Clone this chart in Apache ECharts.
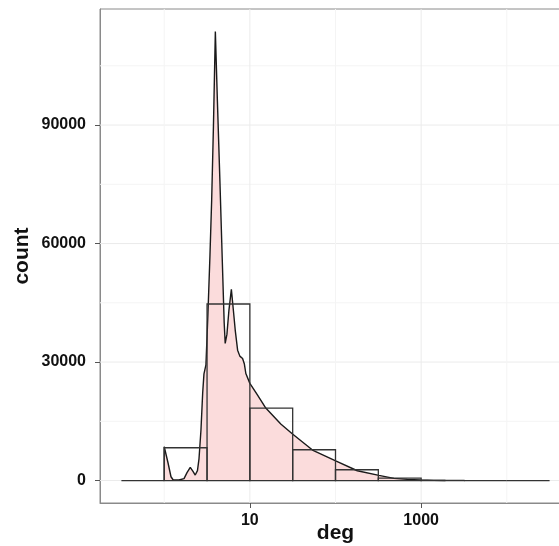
<!DOCTYPE html>
<html>
<head>
<meta charset="utf-8">
<script src="https://cdn.jsdelivr.net/npm/echarts@6/dist/echarts.min.js"></script>
<style>html,body{margin:0;padding:0;background:#fff;}#c{width:559px;height:546px;}</style>
</head>
<body>
<div id="c"></div>
<script>
// ---- data (x values are log10(deg)) ----
const binEdgesLog = [-0.5, 0, 0.5, 1, 1.5, 2, 2.5, 3, 3.5, 4, 4.5];
const binCounts = [0, 8300, 44700, 18350, 7800, 2730, 630, 40, 0, 0];

const densityLogDeg = [0, 0, 0.044, 0.079, 0.103, 0.172, 0.231, 0.266, 0.304, 0.336, 0.362, 0.388, 0.406, 0.429, 0.449, 0.464, 0.487, 0.510, 0.534, 0.554, 0.575, 0.597, 0.621, 0.650, 0.679, 0.700, 0.712, 0.732, 0.755, 0.784, 0.808, 0.829, 0.857, 0.883, 0.915, 0.936, 0.953, 1.000, 1.090, 1.186, 1.361, 1.498, 1.731, 2.002, 2.255, 2.507, 2.682, 2.838, 2.993, 3.148, 3.284, 3.284];
const densityCount = [0, 8550, 4500, 960, 200, 150, 500, 2000, 3340, 2300, 1400, 2500, 5500, 12800, 22150, 27000, 29300, 42000, 57000, 71000, 90000, 113700, 96000, 76000, 55000, 40000, 34700, 37000, 43000, 48400, 43000, 38100, 33000, 31500, 30900, 29500, 27100, 24600, 21650, 18350, 14300, 11800, 7720, 5000, 2480, 1300, 560, 300, 130, 50, 20, 0];

const xTickValuesLog = [1, 3];
const xTickLabels = ['10', '1000'];
const xMinorLog = [0, 2, 4];
const yTickValues = [0, 30000, 60000, 90000];
const yTickLabels = ['0', '30000', '60000', '90000'];
const yMinorValues = [15000, 45000, 75000, 105000];

const X_MIN = -0.75, X_MAX = 4.75;
const Y_MIN = -5685, Y_MAX = 119385;

const chart = echarts.init(document.getElementById('c'), null, {renderer: 'canvas'});

const histData = binCounts.map((c, i) => [binEdgesLog[i], binEdgesLog[i + 1], c]);
const densData = densityLogDeg.map((x, i) => [x, densityCount[i]]);
const hGrid = yTickValues.map(v => [v, 1]).concat(yMinorValues.map(v => [v, 0]));
const vGrid = xTickValuesLog.map(v => [v, 1]).concat(xMinorLog.map(v => [v, 0]));

const FONT = '"Liberation Sans", Arial, Helvetica, sans-serif';

chart.setOption({
  animation: false,
  backgroundColor: '#ffffff',
  grid: {left: 100, top: 9, width: 471, height: 494, containLabel: false, outerBoundsMode: 'none',
    show: true, borderColor: '#8a8a8a', borderWidth: 1, backgroundColor: '#ffffff'},
  xAxis: {
    type: 'value', min: X_MIN, max: X_MAX,
    name: 'deg', nameLocation: 'middle', nameGap: 20, nameMoveOverlap: false,
    nameTextStyle: {fontFamily: FONT, fontSize: 21, fontWeight: 'bold', color: '#111'},
    axisLine: {show: true, onZero: false, lineStyle: {color: '#8a8a8a', width: 1}},
    axisTick: {show: true, customValues: xTickValuesLog, length: 5, lineStyle: {color: '#555'}},
    axisLabel: {customValues: xTickValuesLog, margin: 10, fontFamily: FONT, fontSize: 16, fontWeight: 'bold', color: '#111',
      formatter: v => xTickLabels[xTickValuesLog.indexOf(Math.round(v))] || ''},
    splitLine: {show: false}
  },
  yAxis: {
    type: 'value', min: Y_MIN, max: Y_MAX,
    name: 'count', nameLocation: 'middle', nameGap: 67, nameRotate: 90, nameMoveOverlap: false,
    nameTextStyle: {fontFamily: FONT, fontSize: 21, fontWeight: 'bold', color: '#111'},
    axisLine: {show: true, onZero: false, lineStyle: {color: '#8a8a8a', width: 1}},
    axisTick: {show: true, customValues: yTickValues, length: 5, lineStyle: {color: '#555'}},
    axisLabel: {customValues: yTickValues, margin: 14, fontFamily: FONT, fontSize: 16, fontWeight: 'bold', color: '#111',
      formatter: v => { const i = yTickValues.indexOf(Math.round(v)); return i >= 0 ? yTickLabels[i] : ''; }},
    splitLine: {show: false}
  },
  series: [
    {
      type: 'custom', name: 'hgrid', z: 1, silent: true, clip: true,
      data: hGrid,
      renderItem: function (params, api) {
        const cs = params.coordSys;
        const y = api.coord([X_MIN, api.value(0)])[1];
        return {type: 'line', shape: {x1: cs.x, y1: y, x2: cs.x + cs.width, y2: y},
          style: {stroke: api.value(1) ? '#ebebeb' : '#f4f4f4', lineWidth: 1}};
      }
    },
    {
      type: 'custom', name: 'vgrid', z: 1, silent: true, clip: true,
      data: vGrid,
      renderItem: function (params, api) {
        const cs = params.coordSys;
        const x = api.coord([api.value(0), 0])[0];
        return {type: 'line', shape: {x1: x, y1: cs.y, x2: x, y2: cs.y + cs.height},
          style: {stroke: api.value(1) ? '#ebebeb' : '#f4f4f4', lineWidth: 1}};
      }
    },
    {
      type: 'line', name: 'density', z: 2, data: densData, symbol: 'none', smooth: false,
      lineStyle: {color: '#1a1a1a', width: 1.4},
      areaStyle: {color: '#fbdcdc', opacity: 1, origin: 0}
    },
    {
      type: 'custom', name: 'hist', z: 3, clip: true,
      data: histData,
      renderItem: function (params, api) {
        const p0 = api.coord([api.value(0), api.value(2)]);
        const p1 = api.coord([api.value(1), 0]);
        return {type: 'rect', shape: {x: p0[0], y: p0[1], width: p1[0] - p0[0], height: p1[1] - p0[1]},
          style: {fill: 'none', stroke: '#333333', lineWidth: 1.3}};
      }
    }
  ]
});
</script>
</body>
</html>
